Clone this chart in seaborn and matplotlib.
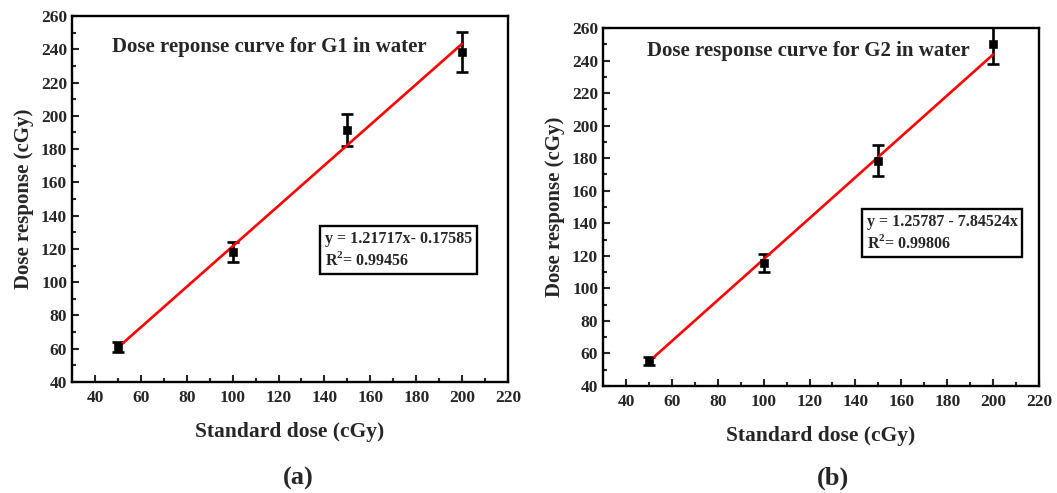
import matplotlib
matplotlib.use("Agg")
import matplotlib.pyplot as plt
import seaborn as sns
import pandas as pd
from matplotlib.ticker import MultipleLocator

# ---- data ----
dose = [50, 100, 150, 200]
g1_resp = [61.0, 118.0, 191.5, 238.5]
g1_err = [3.0, 6.0, 9.5, 12.0]
g2_resp = [55.5, 115.5, 178.5, 250.0]
g2_err = [2.5, 5.5, 9.5, 12.0]
fit_x = [50, 200]
g1_fit_y = [60.7, 243.3]
g2_fit_y = [55.0, 243.7]
titles = ["Dose reponse curve for G1 in water", "Dose response curve for G2 in water"]
eqs = ["y = 1.21717x- 0.17585\nR$^2$= 0.99456", "y = 1.25787 - 7.84524x\nR$^2$= 0.99806"]
panel_labels = ["(a)", "(b)"]
x_ticks = [40, 60, 80, 100, 120, 140, 160, 180, 200, 220]
y_ticks = [40, 60, 80, 100, 120, 140, 160, 180, 200, 220, 240, 260]

sns.set_style("ticks")
plt.rcParams['font.family'] = ['Liberation Serif', 'DejaVu Serif']
plt.rcParams['font.weight'] = 'bold'
plt.rcParams['mathtext.fontset'] = 'custom'
plt.rcParams['mathtext.rm'] = 'Liberation Serif:bold'

fig = plt.figure(figsize=(10.57, 4.93), dpi=100)
axes_rects = [[72/1057, 111/493, 436/1057, 366/493],
              [603/1057, 107/493, 436/1057, 358/493]]
resp_sets = [g1_resp, g2_resp]
err_sets = [g1_err, g2_err]
fit_sets = [g1_fit_y, g2_fit_y]
title_pos = [(0.452, 0.915), (0.47, 0.937)]
eq_pos = [(0.58, 0.36), (0.605, 0.427)]
label_x = [298/1057, 833/1057]
label_y = 1 - 478/493

for i in range(2):
    ax = fig.add_axes(axes_rects[i])
    df = pd.DataFrame({"dose": dose, "resp": resp_sets[i]})
    fdf = pd.DataFrame({"x": fit_x, "y": fit_sets[i]})
    ax.errorbar(dose, resp_sets[i], yerr=err_sets[i], fmt='none', ecolor='black',
                elinewidth=1.9, capsize=4, capthick=1.9, zorder=2)
    sns.lineplot(data=fdf, x="x", y="y", ax=ax, color='red', linewidth=1.9, zorder=3)
    sns.scatterplot(data=df, x="dose", y="resp", ax=ax, marker='s', color='black',
                    s=32, edgecolor='black', zorder=4)
    ax.set_xlim(30, 220)
    ax.set_ylim(40, 260)
    ax.set_xticks(x_ticks)
    ax.set_yticks(y_ticks)
    ax.xaxis.set_minor_locator(MultipleLocator(10))
    ax.yaxis.set_minor_locator(MultipleLocator(10))
    ax.tick_params(which='both', direction='in', top=False, right=False, width=1.5)
    ax.tick_params(which='major', length=5, labelsize=12.5)
    ax.tick_params(which='minor', length=3)
    ax.tick_params(axis='x', which='major', pad=6)
    for lab in ax.get_xticklabels() + ax.get_yticklabels():
        lab.set_fontweight('bold')
    for sp in ax.spines.values():
        sp.set_linewidth(1.7)
        sp.set_visible(True)
        sp.set_color('black')
    ax.set_xlabel("Standard dose (cGy)", fontsize=15.5, fontweight='bold', labelpad=11)
    ax.set_ylabel("Dose response (cGy)", fontsize=15, fontweight='bold', labelpad=5)
    ax.text(title_pos[i][0], title_pos[i][1], titles[i], transform=ax.transAxes,
            ha='center', va='center', fontsize=15, fontweight='bold')
    ax.text(eq_pos[i][0], eq_pos[i][1], eqs[i], transform=ax.transAxes,
            ha='left', va='center', fontsize=11.5, fontweight='bold', linespacing=1.3,
            bbox=dict(boxstyle='square,pad=0.3', facecolor='white', edgecolor='black', linewidth=1.7))
    fig.text(label_x[i], label_y, panel_labels[i], ha='center', va='center',
             fontsize=19, fontweight='bold')

fig.savefig("out.png", dpi=100)
